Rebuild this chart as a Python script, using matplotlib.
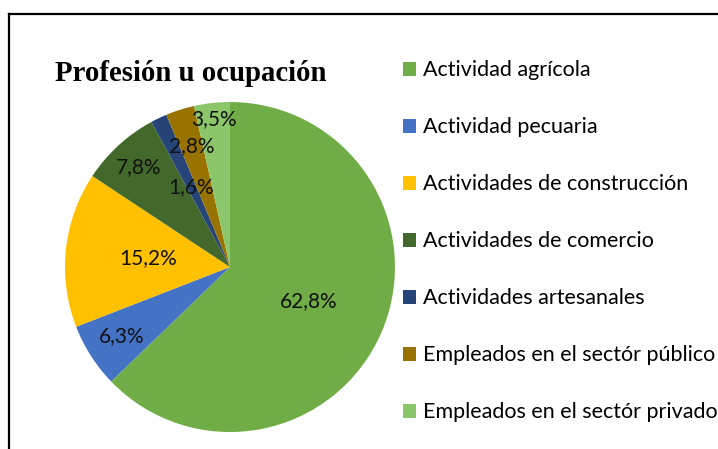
import numpy as np
import matplotlib
matplotlib.use("Agg")
import matplotlib.pyplot as plt
from matplotlib.lines import Line2D

categories = ["Actividad agrícola", "Actividad pecuaria", "Actividades de construcción",
              "Actividades de comercio", "Actividades artesanales",
              "Empleados en el sectór público", "Empleados en el sectór privado"]
values = [62.8, 6.3, 15.2, 7.8, 1.6, 2.8, 3.5]
colors = ["#70AD47", "#4472C4", "#FFC000", "#43682B", "#264478", "#997300", "#8CC66A"]
# radial position of each percentage label (fraction of radius)
label_r = [0.52, 0.78, 0.5, 0.82, 0.54, 0.77, 0.9]

fig = plt.figure(figsize=(7.18, 4.49), dpi=100)
ax = fig.add_axes([0.0905, 0.0378, 0.4596, 0.735])

wedges, texts, autotexts = ax.pie(values, colors=colors, startangle=90, counterclock=False,
                                  autopct=lambda p: f"{p:.1f}%".replace(".", ","),
                                  textprops=dict(fontsize=15, family="Lato", color="#111111"))
for w, t, r in zip(wedges, autotexts, label_r):
    mid = np.deg2rad((w.theta1 + w.theta2) / 2)
    t.set_position((r * np.cos(mid), r * np.sin(mid)))
ax.set_xlim(-1, 1)
ax.set_ylim(-1, 1)
ax.set_aspect("equal")

fig.text(0.265, 0.837, "Profesión u ocupación", family="Liberation Serif", weight="bold",
         fontsize=20.7, ha="center", va="center")

fig.legend(wedges, categories, loc="upper left", bbox_to_anchor=(0.561, 0.866),
           frameon=False, prop=dict(family="Lato", size=15.5), handlelength=0.62,
           handleheight=0.62, handletextpad=0.3, labelspacing=1.72, borderpad=0,
           borderaxespad=0)

fig.add_artist(Line2D([0.0125, 1], [0.9688, 0.9688], color="black", lw=1.6))
fig.add_artist(Line2D([0.0125, 0.0125], [0, 0.9688], color="black", lw=1.6))

fig.savefig("out.png", dpi=100)
